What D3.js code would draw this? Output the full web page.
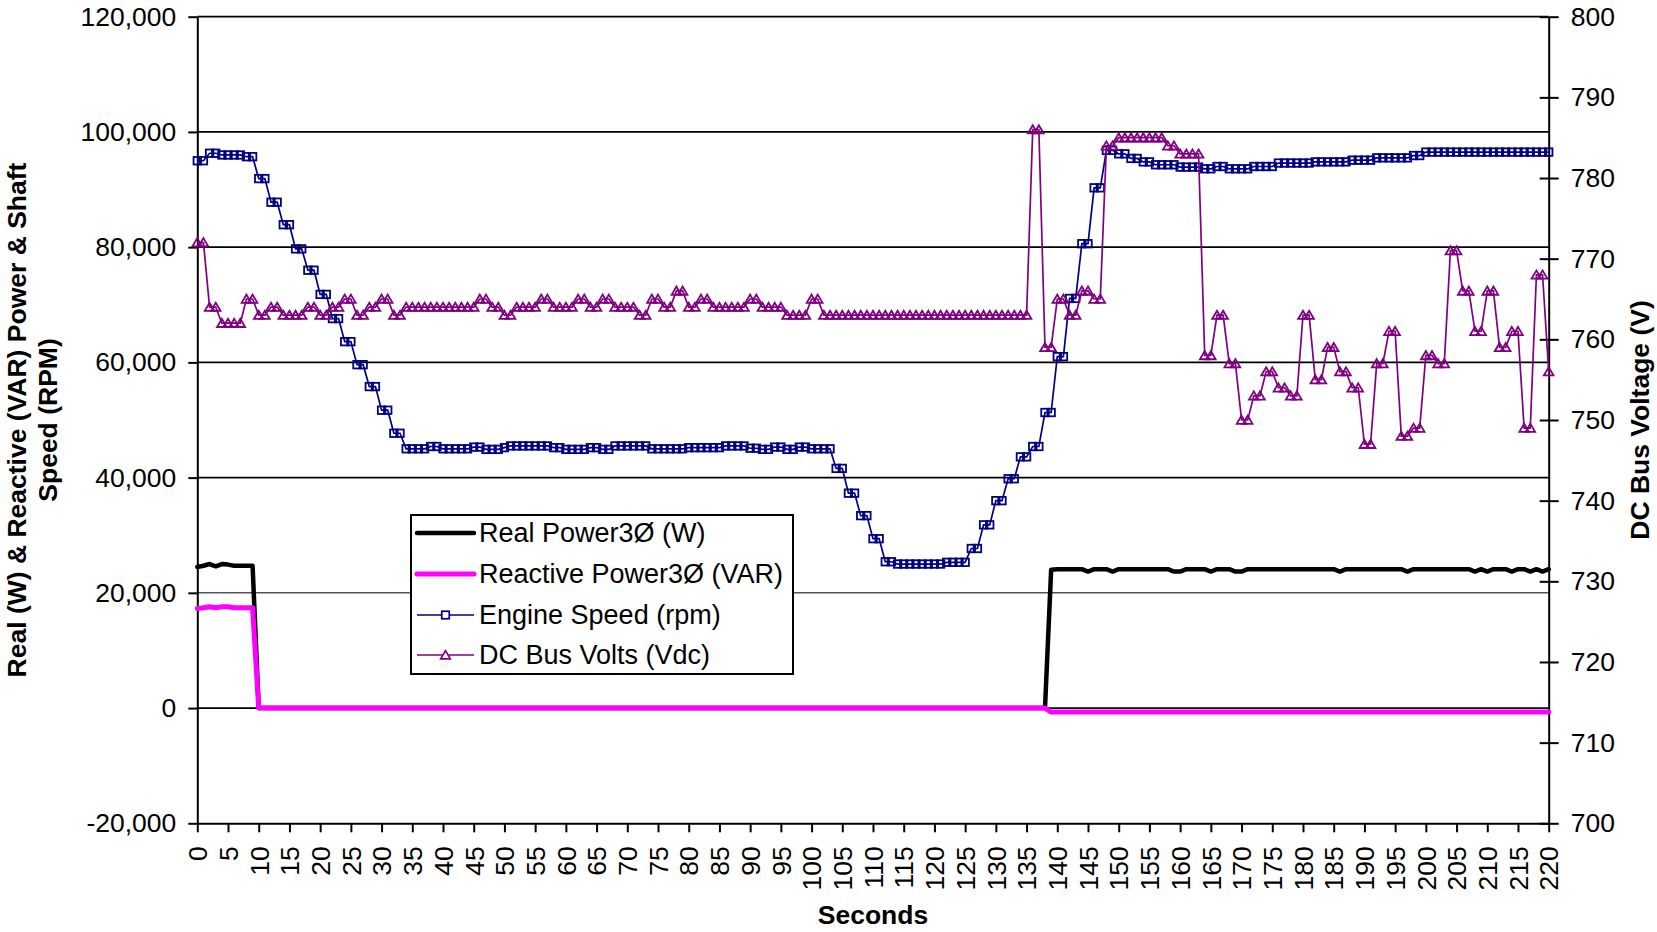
<!DOCTYPE html>
<html><head><meta charset="utf-8">
<script src="https://cdn.jsdelivr.net/npm/d3@7"></script>
<style>
body{margin:0;background:#fff}
text{font-family:"Liberation Sans",Arial,Helvetica,sans-serif;fill:#000}
</style>
</head><body>
<svg id="chart" width="1657" height="932"></svg>
<script>
// ---------------- DATA ----------------
const seconds = d3.range(0, 221);
const leftTicks = [-20000, 0, 20000, 40000, 60000, 80000, 100000, 120000];
const rightTicks = [700, 710, 720, 730, 740, 750, 760, 770, 780, 790, 800];
const xTicks = [0,5,10,15,20,25,30,35,40,45,50,55,60,65,70,75,80,85,90,95,100,105,110,115,120,125,130,135,140,145,150,155,160,165,170,175,180,185,190,195,200,205,210,215,220];
const seriesNames = ["Real Power3\u00D8 (W)", "Reactive Power3\u00D8 (VAR)", "Engine Speed (rpm)", "DC Bus Volts (Vdc)"];

const realPower = [
24500,24700,25000,24600,25000,24900,24700,24700,24700,24700,
0,0,0,0,0,0,0,0,0,0,
0,0,0,0,0,0,0,0,0,0,
0,0,0,0,0,0,0,0,0,0,
0,0,0,0,0,0,0,0,0,0,
0,0,0,0,0,0,0,0,0,0,
0,0,0,0,0,0,0,0,0,0,
0,0,0,0,0,0,0,0,0,0,
0,0,0,0,0,0,0,0,0,0,
0,0,0,0,0,0,0,0,0,0,
0,0,0,0,0,0,0,0,0,0,
0,0,0,0,0,0,0,0,0,0,
0,0,0,0,0,0,0,0,0,0,
0,0,0,0,0,0,0,0,0,24000,
24100,24100,24100,24100,24100,23700,24100,24100,24100,23700,
24100,24100,24100,24100,24100,24100,24100,24100,24100,23700,
23700,24100,24100,24100,24100,23700,24100,24100,24100,23700,
23700,24100,24100,24100,24100,24100,24100,24100,24100,24100,
24100,24100,24100,24100,24100,24100,23700,24100,24100,24100,
24100,24100,24100,24100,24100,24100,24100,23700,24100,24100,
24100,24100,24100,24100,24100,24100,24100,24100,23700,24100,
23700,24100,24100,24100,23700,24100,24100,23700,24100,23700,
24100
];

const reactivePower = [
17300,17400,17600,17400,17600,17600,17400,17400,17400,17400,
0,0,0,0,0,0,0,0,0,0,
0,0,0,0,0,0,0,0,0,0,
0,0,0,0,0,0,0,0,0,0,
0,0,0,0,0,0,0,0,0,0,
0,0,0,0,0,0,0,0,0,0,
0,0,0,0,0,0,0,0,0,0,
0,0,0,0,0,0,0,0,0,0,
0,0,0,0,0,0,0,0,0,0,
0,0,0,0,0,0,0,0,0,0,
0,0,0,0,0,0,0,0,0,0,
0,0,0,0,0,0,0,0,0,0,
0,0,0,0,0,0,0,0,0,0,
0,0,0,0,0,0,0,0,0,-700,
-700,-700,-700,-700,-700,-700,-700,-700,-700,-700,
-700,-700,-700,-700,-700,-700,-700,-700,-700,-700,
-700,-700,-700,-700,-700,-700,-700,-700,-700,-700,
-700,-700,-700,-700,-700,-700,-700,-700,-700,-700,
-700,-700,-700,-700,-700,-700,-700,-700,-700,-700,
-700,-700,-700,-700,-700,-700,-700,-700,-700,-700,
-700,-700,-700,-700,-700,-700,-700,-700,-700,-700,
-700,-700,-700,-700,-700,-700,-700,-700,-700,-700,
-700
];

const engineSpeed = [
95000,95000,96300,96300,96000,96000,96000,96000,95700,95700,
91900,91900,87800,87800,83900,83900,79700,79700,76000,76000,
71800,71800,67600,67600,63600,63600,59600,59600,55800,55800,
51700,51700,47700,47700,45000,45000,45000,45000,45400,45400,
45000,45000,45000,45000,45000,45300,45300,44900,44900,44900,
45200,45500,45500,45500,45500,45500,45500,45500,45200,45200,
44900,44900,44900,44900,45200,45200,44900,44900,45500,45500,
45500,45500,45500,45500,45000,45000,45000,45000,45000,45000,
45200,45200,45200,45200,45200,45200,45500,45500,45500,45500,
45100,45100,44900,44900,45300,45300,44900,44900,45300,45300,
45000,45000,45000,45000,41600,41600,37300,37300,33400,33400,
29400,29400,25400,25400,25000,25000,25000,25000,25000,25000,
25000,25000,25300,25300,25300,25300,27700,27700,31800,31800,
36000,36000,39800,39800,43600,43600,45400,45400,51300,51300,
61000,61000,71100,71100,80600,80600,90300,90300,96800,96800,
96200,96200,95400,95400,94800,94800,94300,94300,94300,94300,
93900,93900,93900,93900,93600,93600,94000,94000,93600,93600,
93600,93600,94000,94000,94000,94000,94600,94600,94600,94600,
94600,94600,94800,94800,94800,94800,94800,94800,95100,95100,
95100,95100,95500,95500,95500,95500,95500,95500,95900,95900,
96500,96500,96500,96500,96500,96500,96500,96500,96500,96500,
96500,96500,96500,96500,96500,96500,96500,96500,96500,96500,
96500
];

const dcBusVolts = [
772,772,764,764,762,762,762,762,765,765,
763,763,764,764,763,763,763,763,764,764,
763,763,764,764,765,765,763,763,764,764,
765,765,763,763,764,764,764,764,764,764,
764,764,764,764,764,764,765,765,764,764,
763,763,764,764,764,764,765,765,764,764,
764,764,765,765,764,764,765,765,764,764,
764,764,763,763,765,765,764,764,766,766,
764,764,765,765,764,764,764,764,764,764,
765,765,764,764,764,764,763,763,763,763,
765,765,763,763,763,763,763,763,763,763,
763,763,763,763,763,763,763,763,763,763,
763,763,763,763,763,763,763,763,763,763,
763,763,763,763,763,763,786,786,759,759,
765,765,763,763,766,766,765,765,784,784,
785,785,785,785,785,785,785,785,784,784,
783,783,783,783,758,758,763,763,757,757,
750,750,753,753,756,756,754,754,753,753,
763,763,755,755,759,759,756,756,754,754,
747,747,757,757,761,761,748,748,749,749,
758,758,757,757,771,771,766,766,761,761,
766,766,759,759,761,761,749,749,768,768,
756
];

// ---------------- LAYOUT ----------------
const L = 197.3, R = 1548.7, T = 16.7, B = 823.3;
const svg = d3.select("#chart");
const x = d3.scaleLinear().domain([0, 220]).range([L, R]);
const yL = d3.scaleLinear().domain([-20000, 120000]).range([B, T]);
const yR = d3.scaleLinear().domain([700, 800]).range([B, T]);
const FS = 26.5;

svg.append("rect").attr("width",1657).attr("height",932).attr("fill","#fff");

// gridlines
svg.append("g").selectAll("line").data(leftTicks.filter(d => d > -20000))
  .join("line")
  .attr("x1", L).attr("x2", R)
  .attr("y1", d => yL(d)).attr("y2", d => yL(d))
  .attr("stroke", "#000")
  .attr("stroke-width", d => d === 20000 ? 1 : 1.7);

// left axis
const fmt = d => d3.format(",")(d).replace("\u2212", "-");
const gL = svg.append("g").attr("transform", `translate(${L},0)`)
  .call(d3.axisLeft(yL).tickValues(leftTicks).tickSize(9).tickSizeOuter(0).tickPadding(12).tickFormat(fmt));
gL.select(".domain").attr("stroke-width", 2);
gL.selectAll(".tick line").attr("stroke-width", 2);
gL.selectAll("text").attr("font-size", FS).attr("font-family", null).style("fill", "#000");

// right axis
const gR = svg.append("g").attr("transform", `translate(${R},0)`)
  .call(d3.axisRight(yR).tickValues(rightTicks).tickSize(10).tickSizeOuter(0).tickPadding(12));
gR.select(".domain").attr("stroke-width", 2);
gR.selectAll(".tick line").attr("x1", -9).attr("stroke-width", 2);
gR.selectAll("text").attr("font-size", FS).attr("font-family", null).style("fill", "#000");

// bottom axis
const gB = svg.append("g").attr("transform", `translate(0,${B})`)
  .call(d3.axisBottom(x).tickValues(xTicks).tickSize(9).tickSizeOuter(0));
gB.select(".domain").attr("stroke-width", 2);
gB.selectAll(".tick line").attr("stroke-width", 2);
gB.selectAll("text")
  .attr("font-size", FS).attr("font-family", null).style("fill", "#000")
  .attr("transform", "rotate(-90)")
  .attr("text-anchor", "end")
  .attr("x", -23).attr("y", 0).attr("dy", "0.35em");

// series
const lineGen = ys => d3.line().x((d, i) => x(seconds[i])).y(d => ys(d));
const plot = svg.append("g");
plot.append("path").datum(realPower)
  .attr("d", lineGen(yL)).attr("fill", "none").attr("stroke", "#000")
  .attr("stroke-width", 4.5).attr("stroke-linejoin", "round").attr("stroke-linecap", "round");
plot.append("path").datum(reactivePower)
  .attr("d", lineGen(yL)).attr("fill", "none").attr("stroke", "#FF00FF")
  .attr("stroke-width", 5).attr("stroke-linejoin", "round").attr("stroke-linecap", "round");

const navy = "#000080", purple = "#800080";
const SQ = 7.5;
const triPath = "M0,-4.4L4.8,3.8L-4.8,3.8Z";

plot.append("path").datum(engineSpeed)
  .attr("d", lineGen(yL)).attr("fill", "none").attr("stroke", navy).attr("stroke-width", 1.7);
plot.append("g").selectAll("rect").data(engineSpeed).join("rect")
  .attr("x", (d, i) => x(seconds[i]) - SQ / 2).attr("y", d => yL(d) - SQ / 2)
  .attr("width", SQ).attr("height", SQ)
  .attr("fill", "none").attr("stroke", navy).attr("stroke-width", 1.8);

plot.append("path").datum(dcBusVolts)
  .attr("d", lineGen(yR)).attr("fill", "none").attr("stroke", purple).attr("stroke-width", 1.7);
plot.append("g").selectAll("path").data(dcBusVolts).join("path")
  .attr("d", triPath)
  .attr("transform", (d, i) => `translate(${x(seconds[i])},${yR(d)})`)
  .attr("fill", "none").attr("stroke", purple).attr("stroke-width", 1.8);

// axis titles
svg.append("text").attr("transform", `translate(17,${(T + B) / 2}) rotate(-90)`)
  .attr("text-anchor", "middle").attr("dominant-baseline", "central")
  .attr("font-size", FS).attr("font-weight", "bold")
  .text("Real (W) & Reactive (VAR) Power & Shaft");
svg.append("text").attr("transform", `translate(48,${(T + B) / 2}) rotate(-90)`)
  .attr("text-anchor", "middle").attr("dominant-baseline", "central")
  .attr("font-size", FS).attr("font-weight", "bold")
  .text("Speed (RPM)");
svg.append("text").attr("transform", `translate(1640,${(T + B) / 2}) rotate(-90)`)
  .attr("text-anchor", "middle").attr("dominant-baseline", "central")
  .attr("font-size", FS).attr("font-weight", "bold")
  .text("DC Bus Voltage (V)");
svg.append("text").attr("x", (L + R) / 2).attr("y", 924)
  .attr("text-anchor", "middle")
  .attr("font-size", FS).attr("font-weight", "bold")
  .text("Seconds");

// legend
const lg = svg.append("g");
lg.append("rect").attr("x", 411).attr("y", 515).attr("width", 382).attr("height", 159)
  .attr("fill", "#fff").attr("stroke", "#000").attr("stroke-width", 2);
const rowsY = [533, 574, 615, 655];
const styles = [
  {c: "#000", w: 4.5, m: null},
  {c: "#FF00FF", w: 5, m: null},
  {c: navy, w: 1.7, m: "sq"},
  {c: purple, w: 1.7, m: "tri"}
];
seriesNames.forEach((name, i) => {
  const y = rowsY[i], s = styles[i];
  lg.append("line").attr("x1", 417).attr("x2", 474).attr("y1", y).attr("y2", y)
    .attr("stroke", s.c).attr("stroke-width", s.w).attr("stroke-linecap", s.w > 2 ? "round" : "butt");
  if (s.m === "sq") lg.append("rect").attr("x", 445.5 - SQ / 2).attr("y", y - SQ / 2)
    .attr("width", SQ).attr("height", SQ).attr("fill", "#fff").attr("stroke", s.c).attr("stroke-width", 1.7);
  if (s.m === "tri") lg.append("path").attr("d", triPath).attr("transform", `translate(445.5,${y})`)
    .attr("fill", "#fff").attr("stroke", s.c).attr("stroke-width", 1.7);
  lg.append("text").attr("x", 479).attr("y", y).attr("dominant-baseline", "central")
    .attr("font-size", 27).text(name);
});
</script>
</body></html>
